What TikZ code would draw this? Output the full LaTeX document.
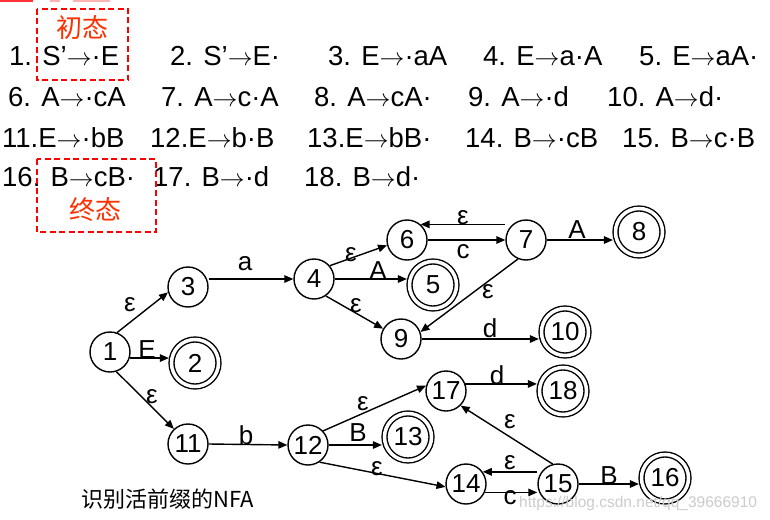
\documentclass[tikz,border=0pt]{standalone}
\usepackage{fontspec}
\setmainfont{Liberation Sans}
\newfontfamily\cjkfont{Noto Sans CJK SC}
\usetikzlibrary{arrows.meta}
\definecolor{tagred}{RGB}{255,48,0}
\definecolor{boxred}{RGB}{255,0,0}
\newcommand{\ra}{\ensuremath{\rightarrow}}
\begin{document}
\begin{tikzpicture}[x=1pt,y=-1pt,
  st/.style={circle, draw, line width=1.4pt, minimum size=40pt, inner sep=0pt, font=\fontsize{26}{26}\selectfont},
  acc/.style={st, double, double distance=3.5pt, minimum size=47pt, outer sep=2.6pt},
  lbl/.style={font=\fontsize{26}{26}\selectfont, inner sep=0pt},
  item/.style={anchor=base west, inner sep=0pt, font=\fontsize{27.5}{27.5}\selectfont},
  tag/.style={text=tagred, inner sep=0pt, font=\cjkfont\fontsize{26}{26}\selectfont},
  dbox/.style={draw=boxred, line width=1.6pt, dash pattern=on 6pt off 3.5pt},
  edge/.style={line width=1.4pt, -{Triangle[length=9pt,width=7.5pt]}}]
\useasboundingbox (0,0) rectangle (770,519);
\fill[white] (0,0) rectangle (770,519);
% top fragments
\fill[boxred!80] (0,0) rectangle (33,2);
\fill[boxred!30] (50,0) rectangle (60,2);
\fill[boxred!30] (73,0) rectangle (110,2);
% item list
\node[item] (i1) at (9,65) {1. S’\ra·E};
\node[item] (i2) at (170,65) {2. S’\ra E·};
\node[item] (i3) at (328,65) {3. E\ra·aA};
\node[item] (i4) at (483,65) {4. E\ra a·A};
\node[item] (i5) at (639,65) {5. E\ra aA·};
\node[item] (i6) at (8,106) {6. A\ra·cA};
\node[item] (i7) at (161,106) {7. A\ra c·A};
\node[item] (i8) at (314,106) {8. A\ra cA·};
\node[item] (i9) at (468,106) {9. A\ra·d};
\node[item] (i10) at (607,106) {10. A\ra d·};
\node[item] (i11) at (2,147) {11.E\ra·bB};
\node[item] (i12) at (150,147) {12.E\ra b·B};
\node[item] (i13) at (307,147) {13.E\ra bB·};
\node[item] (i14) at (465,147) {14. B\ra·cB};
\node[item] (i15) at (622,147) {15. B\ra c·B};
\node[item] (i16) at (2,186) {16. B\ra cB·};
\node[item] (i17) at (153,186) {17. B\ra·d};
\node[item] (i18) at (304,186) {18. B\ra d·};
% dashed boxes
\draw[dbox] (37,9) rectangle (128,80);
\draw[dbox] (37,159) rectangle (156,232);
\node[tag] (t1) at (82,28) {初态};
\node[tag] (t2) at (95,210) {终态};
% states
\node[st] (n1) at (110,352) {1};
\node[acc] (n2) at (195,363) {2};
\node[st] (n3) at (188,287) {3};
\node[st] (n4) at (314,279) {4};
\node[acc] (n5) at (433,285) {5};
\node[st] (n6) at (407,240) {6};
\node[st] (n7) at (526,240) {7};
\node[acc] (n8) at (639,232) {8};
\node[st] (n9) at (401,339) {9};
\node[acc] (n10) at (565,332) {10};
\node[st] (n11) at (188,444) {11};
\node[st] (n12) at (308,445) {12};
\node[acc] (n13) at (408,437) {13};
\node[st] (n14) at (466,484) {14};
\node[st] (n15) at (558,484) {15};
\node[acc] (n16) at (665,478) {16};
\node[st] (n17) at (446,391) {17};
\node[acc] (n18) at (563,391) {18};
% transitions
\draw[edge] (n1.70) -- (n3.195);
\draw[edge] (n1.-17) -- (n1.-17 -| n2.west);
\draw[edge] (n1.-72) -- (n11.133);
\draw[edge] (n3.east |- n4.west) -- (n4.west);
\draw[edge] (n4.40) -- (n6.195);
\draw[edge] (n4.east) -- (n4.east -| n5.west);
\draw[edge] (n4.-55) -- (n9.150);
\draw[edge] (n6.east) -- (n7.west);
\draw[edge] (n7.west |- n6.49) -- (n6.49);
\draw[edge] (n7.east) -- (n7.east -| n8.west);
\draw[edge] (n7.-113) -- (n9.20);
\draw[edge] (n9.east) -- (n9.east -| n10.west);
\draw[edge] (n11.east) -- (n12.west);
\draw[edge] (n12.43) -- (n17.165);
\draw[edge] (n12.east) -- (n12.east -| n13.west);
\draw[edge] (n12.-56) -- (n14.188);
\draw[edge] (n17.20) -- (n17.20 -| n18.west);
\draw[edge] (n15.105) -- (n17.-45);
\draw[edge] (n15.west |- n14.36) -- (n14.36);
\draw[edge] (n14.-24) -- (n14.-24 -| n15.west);
\draw[edge] (n15.east) -- (n15.east -| n16.west);
% transition labels
\node[lbl] (l13) at (130,305) {ε};
\node[lbl] (l12) at (147,350) {E};
\node[lbl] (l111) at (152,397) {ε};
\node[lbl] (l34) at (245,264) {a};
\node[lbl] (l46) at (351,255) {ε};
\node[lbl] (l45) at (378,271) {A};
\node[lbl] (l49) at (356,306) {ε};
\node[lbl] (l67) at (463,252) {c};
\node[lbl] (l76) at (463,218) {ε};
\node[lbl] (l78) at (577,230) {A};
\node[lbl] (l79) at (488,292) {ε};
\node[lbl] (l910) at (490,328) {d};
\node[lbl] (l1112) at (246,435) {b};
\node[lbl] (l1217) at (363,404) {ε};
\node[lbl] (l1213) at (358,433) {B};
\node[lbl] (l1214) at (377,469) {ε};
\node[lbl] (l1718) at (497,375) {d};
\node[lbl] (l1517) at (510,422) {ε};
\node[lbl] (l1514) at (510,463) {ε};
\node[lbl] (l1415) at (510,498) {c};
\node[lbl] (l1516) at (609,476) {B};
% caption and watermark
\node[anchor=west, inner sep=0pt, font=\cjkfont\fontsize{22}{22}\selectfont] (cap) at (81,499) {识别活前缀的NFA};
\node[anchor=base west, inner sep=0pt, text=black!20, font=\fontsize{15.5}{15.5}\selectfont] (wm) at (519,507) {https://blog.csdn.net/qq\_39666910};
\end{tikzpicture}
\end{document}
